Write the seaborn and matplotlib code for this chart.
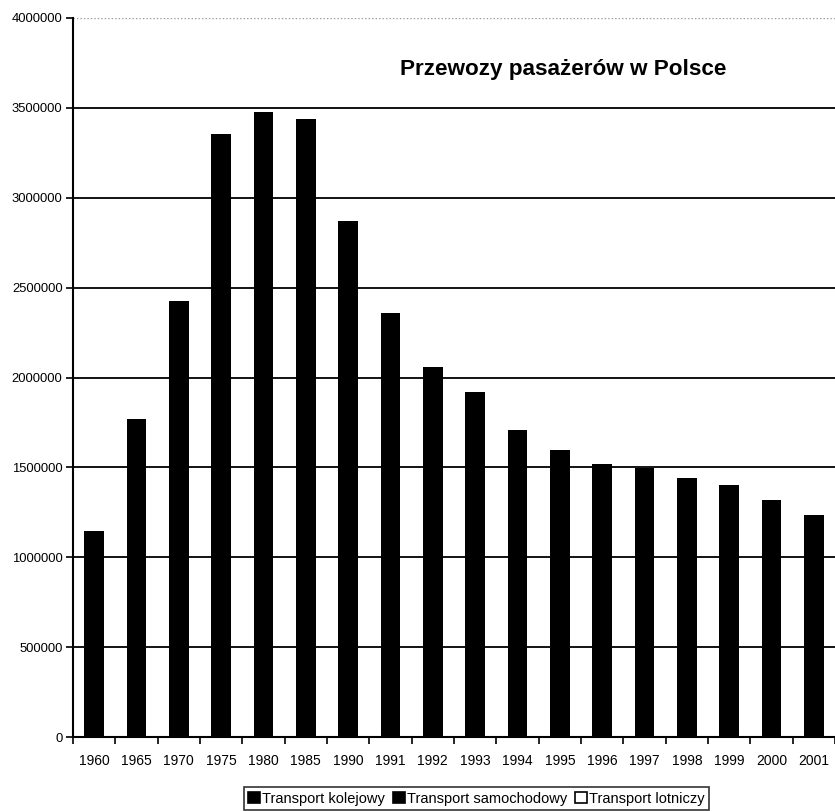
import matplotlib
matplotlib.use("Agg")
import matplotlib.pyplot as plt
from matplotlib.patches import Patch
from matplotlib.ticker import FixedLocator
import numpy as np
import pandas as pd
import seaborn as sns

# Passenger transport in Poland, total (all modes), by year
lata = ["1960", "1965", "1970", "1975", "1980", "1985", "1990", "1991", "1992",
        "1993", "1994", "1995", "1996", "1997", "1998", "1999", "2000", "2001"]
przewozy = [1146000, 1770000, 2428000, 3354000, 3478000, 3437000, 2872000,
            2359000, 2059000, 1922000, 1707000, 1596000, 1518000, 1496000,
            1443000, 1402000, 1318000, 1235000]
serie = ["Transport kolejowy", "Transport samochodowy", "Transport lotniczy"]
kolory_serii = ["black", "black", "white"]
yticks = [0, 500000, 1000000, 1500000, 2000000, 2500000, 3000000, 3500000, 4000000]

sns.set_theme(style="white")
plt.rcParams["font.family"] = ["Liberation Sans", "DejaVu Sans"]
plt.rcParams["text.color"] = "black"
plt.rcParams["xtick.color"] = "black"
plt.rcParams["ytick.color"] = "black"

df = pd.DataFrame({"rok": lata, "pasazerowie": przewozy})

fig = plt.figure(figsize=(8.35, 8.11), dpi=100)
ax = fig.add_axes([73 / 835, 74 / 811, 1 - 73 / 835, (737 - 18) / 811])

sns.barplot(data=df, x="rok", y="pasazerowie", color="black", width=0.47,
            saturation=1, edgecolor="black", linewidth=0, ax=ax, zorder=3)

ax.set_xlim(-0.5, len(lata) - 0.5)
ax.set_ylim(0, 4000000)
ax.set_yticks(yticks)
ax.set_yticklabels([str(v) for v in yticks], fontsize=9.4)

# horizontal grid lines, top one dotted
for v in yticks[1:-1]:
    ax.axhline(v, color="black", lw=1.3, zorder=1)
ax.axhline(4000000, color="#9a9a9a", lw=1.0, ls=(0, (1, 1.5)), zorder=1)

# category labels centred, tick marks between categories
ax.set_xticks(range(len(lata)))
ax.set_xticklabels(lata, fontsize=10)
ax.xaxis.set_minor_locator(FixedLocator(np.arange(-0.5, len(lata), 1.0)))
ax.tick_params(axis="x", which="major", length=0, pad=12.5)
ax.tick_params(axis="x", which="minor", length=5, width=1.2, direction="out",
               bottom=True)
ax.tick_params(axis="y", which="major", length=5, width=1.2, direction="out",
               left=True, pad=2.5)

ax.set_xlabel("")
ax.set_ylabel("")
for s in ["top", "right"]:
    ax.spines[s].set_visible(False)
for s in ["left", "bottom"]:
    ax.spines[s].set_color("black")
    ax.spines[s].set_linewidth(1.5)

fig.text(563 / 835, 1 - 70 / 811, "Przewozy pasażerów w Polsce",
         ha="center", va="center", fontsize=16.2, fontweight="bold", color="black")

uchwyty = [Patch(facecolor=k, edgecolor="black", linewidth=1.2) for k in kolory_serii]
leg = fig.legend(uchwyty, serie, loc="center",
                 bbox_to_anchor=(476.5 / 835, 1 - 798.5 / 811),
                 ncol=3, fontsize=10.5, frameon=True, fancybox=False,
                 handlelength=0.8, handleheight=0.8, handletextpad=0.15,
                 columnspacing=0.55, borderpad=0.3, borderaxespad=0)
leg.get_frame().set_edgecolor("black")
leg.get_frame().set_linewidth(1.2)

fig.savefig("out.png", dpi=100)
